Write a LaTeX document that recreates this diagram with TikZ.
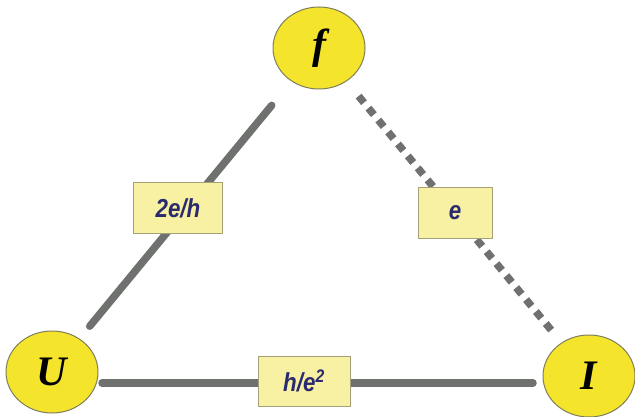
\documentclass[tikz,border=0pt]{standalone}
\usepackage{fontspec}
\setmainfont{Liberation Serif}
\setsansfont{Liberation Sans}
\newfontfamily\tagfont[FakeStretch=0.86]{Liberation Sans}
\usetikzlibrary{shapes.geometric}
\definecolor{ballfill}{HTML}{F5E42C}
\definecolor{ballrim}{HTML}{7E7E5A}
\definecolor{boxfill}{HTML}{F8F0A2}
\definecolor{boxrim}{HTML}{A6A078}
\definecolor{barcol}{HTML}{6F716E}
\definecolor{ink}{HTML}{2A2A6E}
\tikzset{
  ball/.style={ellipse, draw=ballrim, line width=1pt, fill=ballfill,
    minimum width=92pt, minimum height=82pt, inner sep=0pt,
    font=\bfseries\itshape\fontsize{42}{42}\selectfont},
  tag/.style={rectangle, draw=boxrim, line width=1pt, fill=boxfill,
    minimum height=50pt, inner sep=0pt,
    font=\tagfont\bfseries\itshape\fontsize{26}{26}\selectfont, text=ink},
  bar/.style={draw=barcol, line width=7.5pt, line cap=round},
  dashbar/.style={draw=barcol, line width=7.5pt, dash pattern=on 8.5pt off 7pt}
}
\begin{document}
\begin{tikzpicture}[x=1pt,y=-1pt]
  \useasboundingbox (0,0) rectangle (635,417);

  % the three quantities
  \node[ball] (f) at (319,48) {f};
  \node[ball] (U) at (52,372) {U};
  \node[ball] (I) at (589,376) {I};

  % ends of the lower bar, which runs a little below the centres
  \coordinate (b1) at (102,383);
  \coordinate (b2) at (533,383);

  % connecting bars
  \draw[bar, shorten <=16pt, shorten >=31pt] (U) -- (f);
  \draw[dashbar, shorten <=19pt, shorten >=15pt] (f) -- (I);
  \draw[bar] (b1) -- (b2);

  % relation labels
  \node[tag, minimum width=89pt] (k1) at (178,208) {2e/h};
  \node[tag, minimum width=74pt] (k2) at (455,213) {e};
  \node[tag, minimum width=92pt] (k3) at (304,381) {h/e\textsuperscript{2}};
\end{tikzpicture}
\end{document}
